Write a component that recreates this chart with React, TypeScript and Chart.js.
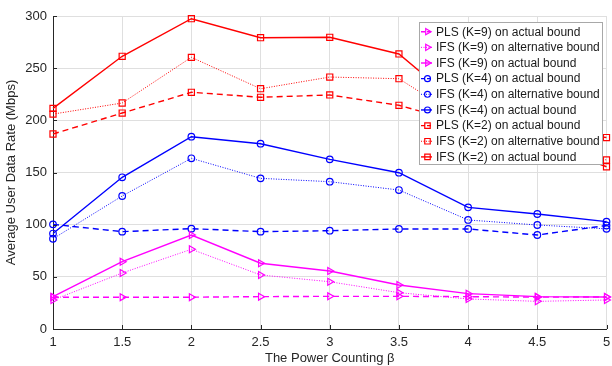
import React, { useEffect, useRef } from "react";
import { Chart, registerables } from "chart.js";
import { drawPoint } from "chart.js/helpers";

Chart.register(...registerables);

const beta = [1, 1.5, 2, 2.5, 3, 3.5, 4, 4.5, 5];
const yTicks = [0, 50, 100, 150, 200, 250, 300];

const plsK9 = [30.5, 30.5, 30.5, 31, 31.3, 31.3, 31, 30.5, 30.7];
const ifsAltK9 = [27.8, 53.7, 76.4, 51.8, 45.3, 34.8, 28.8, 26.5, 27.8];
const ifsK9 = [31, 64.5, 90.1, 63, 55.6, 42.2, 33.9, 31, 30.7];
const plsK4 = [100.3, 93.3, 96.2, 93.3, 94.2, 95.9, 95.9, 90.1, 99.2];
const ifsAltK4 = [86.5, 127.5, 163.6, 144.4, 141.2, 133.2, 104.5, 99.7, 96];
const ifsK4 = [91.5, 145.4, 184.3, 177.6, 162.6, 149.8, 116.6, 110.2, 102.9];
const plsK2 = [186.9, 207, 226.9, 222.1, 224.3, 214.4, 196, 190, 183.5];
const ifsAltK2 = [206, 216.6, 260.4, 230.3, 241.5, 239.9, 198, 176, 162];
const ifsK2 = [211.5, 261.4, 297.4, 279.2, 279.6, 263.6, 208, 181, 155.5];

const labels = [
  "PLS (K=9) on actual bound",
  "IFS (K=9) on alternative bound",
  "IFS (K=9) on actual bound",
  "PLS (K=4) on actual bound",
  "IFS (K=4) on alternative bound",
  "IFS (K=4) on actual bound",
  "PLS (K=2) on actual bound",
  "IFS (K=2) on alternative bound",
  "IFS (K=2) on actual bound",
];

const FONT = "'Liberation Sans', Arial, Helvetica, sans-serif";
const TEXT = "#262626";

function mk(label: string, values: number[], color: string, kind: string, marker: string) {
  const dash = kind === "dashed" ? [6, 4] : kind === "dotted" ? [1, 1.5] : [];
  const width = kind === "dotted" ? 1 : 1.4;
  const radius = marker === "rect" ? 4.3 : marker === "circle" ? 3.3 : 4;
  return {
    label,
    data: beta.map((b, i) => ({ x: b, y: values[i] })),
    borderColor: color,
    backgroundColor: color,
    borderWidth: width,
    borderDash: dash,
    pointStyle: marker,
    pointRotation: marker === "triangle" ? 90 : 0,
    pointRadius: radius,
    pointBorderWidth: 1.2,
    pointBorderColor: color,
    pointBackgroundColor: "rgba(0,0,0,0)",
    tension: 0,
    clip: false as any,
  };
}

const legendPlugin = {
  id: "boxLegend",
  afterDraw(chart: any) {
    const ctx = chart.ctx;
    const x0 = 419, y0 = 22, x1 = 603, y1 = 165;
    ctx.save();
    ctx.fillStyle = "#ffffff";
    ctx.fillRect(x0, y0, x1 - x0, y1 - y0);
    ctx.strokeStyle = "#a8a8a8";
    ctx.lineWidth = 1;
    ctx.strokeRect(x0 + 0.5, y0 + 0.5, x1 - x0 - 1, y1 - y0 - 1);
    const n = chart.data.datasets.length;
    const rowH = 15.65;
    for (let i = 0; i < n; i++) {
      const ds = chart.data.datasets[i];
      const y = 31.7 + i * rowH;
      ctx.strokeStyle = ds.borderColor;
      ctx.lineWidth = ds.borderWidth;
      ctx.setLineDash(ds.borderDash.length ? (ds.borderDash[0] > 2 ? [4, 2] : ds.borderDash) : []);
      ctx.beginPath();
      ctx.moveTo(421, y);
      ctx.lineTo(432, y);
      ctx.stroke();
      ctx.setLineDash([]);
      ctx.fillStyle = "rgba(0,0,0,0)";
      ctx.strokeStyle = ds.borderColor;
      ctx.lineWidth = 1.2;
      drawPoint(ctx, {
        pointStyle: ds.pointStyle,
        rotation: ds.pointRotation,
        radius: ds.pointRadius * 0.9,
        borderWidth: 1.2,
      } as any, 427.5, y);
      ctx.fillStyle = "#1a1a1a";
      ctx.font = `12px ${FONT}`;
      ctx.textBaseline = "middle";
      ctx.textAlign = "left";
      ctx.fillText(ds.label, 436, y + 0.5);
    }
    ctx.restore();
  },
};

const tickPlugin = {
  id: "innerTicks",
  afterDatasetsDraw(chart: any) {
    const { ctx, chartArea, scales } = chart;
    ctx.save();
    ctx.strokeStyle = TEXT;
    ctx.lineWidth = 1;
    beta.forEach((b) => {
      const x = Math.round(scales.x.getPixelForValue(b)) + 0.5;
      ctx.beginPath();
      ctx.moveTo(x, chartArea.bottom);
      ctx.lineTo(x, chartArea.bottom - 4);
      ctx.stroke();
    });
    yTicks.forEach((v) => {
      const y = Math.round(scales.y.getPixelForValue(v)) + 0.5;
      ctx.beginPath();
      ctx.moveTo(chartArea.left, y);
      ctx.lineTo(chartArea.left + 4, y);
      ctx.stroke();
    });
    ctx.restore();
  },
};

export default function App() {
  const ref = useRef<HTMLCanvasElement | null>(null);
  useEffect(() => {
    document.body.style.margin = "0";
    const canvas = ref.current;
    if (!canvas) return;
    const datasets = [
      mk(labels[0], plsK9, "#ff00ff", "dashed", "triangle"),
      mk(labels[1], ifsAltK9, "#ff00ff", "dotted", "triangle"),
      mk(labels[2], ifsK9, "#ff00ff", "solid", "triangle"),
      mk(labels[3], plsK4, "#0000ff", "dashed", "circle"),
      mk(labels[4], ifsAltK4, "#0000ff", "dotted", "circle"),
      mk(labels[5], ifsK4, "#0000ff", "solid", "circle"),
      mk(labels[6], plsK2, "#ff0000", "dashed", "rect"),
      mk(labels[7], ifsAltK2, "#ff0000", "dotted", "rect"),
      mk(labels[8], ifsK2, "#ff0000", "solid", "rect"),
    ];
    const chart = new Chart(canvas, {
      type: "line",
      data: { datasets: datasets as any },
      plugins: [tickPlugin, legendPlugin],
      options: {
        animation: false,
        responsive: false,
        layout: { padding: { top: 16, right: 3, left: 0, bottom: 0 } },
        plugins: { legend: { display: false }, tooltip: { enabled: false } },
        scales: {
          x: {
            type: "linear",
            min: 1,
            max: 5,
            afterBuildTicks: (s: any) => {
              s.ticks = beta.map((v) => ({ value: v }));
            },
            ticks: {
              padding: 6,
              color: TEXT,
              font: { family: FONT, size: 13 },
              maxRotation: 0,
              autoSkip: false,
              callback: (v: any) => String(v),
            },
            grid: { color: "#dfdfdf", drawTicks: false },
            border: { color: TEXT, width: 1 },
            title: {
              display: true,
              text: "The Power Counting β",
              color: TEXT,
              font: { family: FONT, size: 13 },
              padding: { top: 0, bottom: 0 },
            },
            afterFit: (s: any) => {
              s.height = 37;
              s.paddingLeft = 0;
              s.paddingRight = 0;
            },
          },
          y: {
            type: "linear",
            min: 0,
            max: 300,
            afterBuildTicks: (s: any) => {
              s.ticks = yTicks.map((v) => ({ value: v }));
            },
            ticks: {
              padding: 6,
              color: TEXT,
              font: { family: FONT, size: 13 },
              callback: (v: any) => String(v),
            },
            grid: { color: "#dfdfdf", drawTicks: false },
            border: { color: TEXT, width: 1 },
            title: {
              display: true,
              text: "Average User Data Rate (Mbps)",
              color: TEXT,
              font: { family: FONT, size: 13 },
              padding: { top: 4, bottom: 0 },
            },
            afterFit: (s: any) => {
              s.width = 53;
              s.paddingTop = 0;
              s.paddingBottom = 0;
            },
          },
        },
      } as any,
    });
    return () => chart.destroy();
  }, []);
  return <canvas ref={ref} width={612} height={366} style={{ display: "block" }} />;
}
